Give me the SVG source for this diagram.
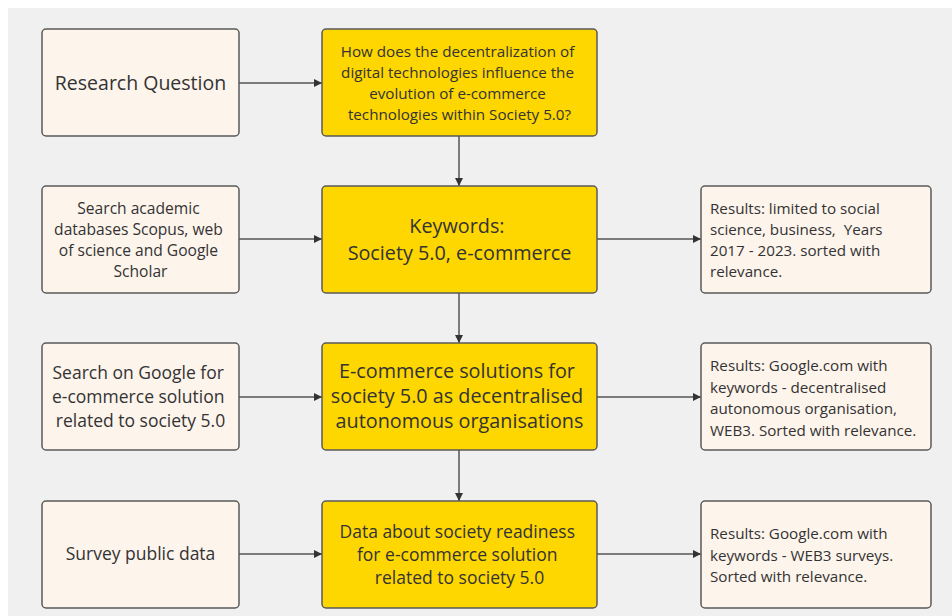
<svg xmlns="http://www.w3.org/2000/svg" width="952" height="616" viewBox="0 0 952 616">
<defs>
<marker id="ah" viewBox="0 0 10 10" refX="10" refY="5" markerWidth="8" markerHeight="8" markerUnits="userSpaceOnUse" orient="auto">
<path d="M0,0 L10,5 L0,10 z" fill="#333"/>
</marker>
<style>
.c{fill:#fdf4ec;stroke:#5a5a5a;stroke-width:1.5}
.y{fill:#fed600;stroke:#5a5a5a;stroke-width:1.5}
text{font-family:"Open Sans","Noto Sans","Liberation Sans",sans-serif;fill:#333}
.m{text-anchor:middle}
.l{font-size:19.8px}
.rq{font-size:19.5px}
.s{font-size:15.2px}
.sa{font-size:15.6px}
.q{font-size:15.2px}
.md{font-size:17.5px}
.e{fill:none;stroke:#555;stroke-width:1.5;marker-end:url(#ah)}
</style>
</defs>
<rect x="0" y="0" width="952" height="616" fill="#ffffff"/>
<rect x="8" y="8" width="944" height="608" fill="#f0f0f0"/>
<g id="connectors">
<path class="e" d="M239,83 H322"/>
<path class="e" d="M459,136 V186"/>
<path class="e" d="M239,239 H322"/>
<path class="e" d="M597,239 H701"/>
<path class="e" d="M459,293 V343"/>
<path class="e" d="M239,397 H322"/>
<path class="e" d="M597,397 H701"/>
<path class="e" d="M459,450 V501"/>
<path class="e" d="M239,554 H322"/>
<path class="e" d="M597,554 H701"/>
</g>
<g id="research-question">
<rect class="c" x="42" y="29" width="197" height="107" rx="4"/>
<text class="m rq" x="140.5" y="89.5">Research Question</text>
</g>
<g id="question">
<rect class="y" x="322" y="29" width="275" height="107" rx="4"/>
<text class="m q" x="459.5">
<tspan x="459.5" y="57">How does the decentralization of</tspan>
<tspan x="459.5" y="78">digital technologies influence the</tspan>
<tspan x="459.5" y="99">evolution of e-commerce</tspan>
<tspan x="459.5" y="120">technologies within Society 5.0?</tspan>
</text>
</g>
<g id="search-academic">
<rect class="c" x="42" y="186" width="197" height="107" rx="4"/>
<text class="m sa" x="140.5">
<tspan x="140.5" y="214">Search academic</tspan>
<tspan x="140.5" y="235">databases Scopus, web</tspan>
<tspan x="140.5" y="256">of science and Google</tspan>
<tspan x="140.5" y="277">Scholar</tspan>
</text>
</g>
<g id="keywords">
<rect class="y" x="322" y="186" width="275" height="107" rx="4"/>
<text class="m l" x="459.5">
<tspan x="459.5" y="233">Keywords:</tspan>
<tspan x="459.5" y="260">Society 5.0, e-commerce</tspan>
</text>
</g>
<g id="results-1">
<rect class="c" x="701" y="186" width="230" height="107" rx="4"/>
<text class="s" x="710">
<tspan x="710" y="214">Results: limited to social</tspan>
<tspan x="710" y="235" xml:space="preserve">science, business,  Years</tspan>
<tspan x="710" y="256">2017 - 2023. sorted with</tspan>
<tspan x="710" y="277">relevance.</tspan>
</text>
</g>
<g id="search-google">
<rect class="c" x="42" y="343" width="197" height="107" rx="4"/>
<text class="m md" x="140.5">
<tspan x="140.5" y="379">Search on Google for</tspan>
<tspan x="140.5" y="403">e-commerce solution</tspan>
<tspan x="140.5" y="427">related to society 5.0</tspan>
</text>
</g>
<g id="ecommerce-solutions">
<rect class="y" x="322" y="343" width="275" height="107" rx="4"/>
<text class="m l" x="459.5">
<tspan x="459.5" y="378">E-commerce solutions for</tspan>
<tspan x="459.5" y="403">society 5.0 as decentralised</tspan>
<tspan x="459.5" y="428">autonomous organisations</tspan>
</text>
</g>
<g id="results-2">
<rect class="c" x="701" y="343" width="230" height="107" rx="4"/>
<text class="s" x="710">
<tspan x="710" y="371">Results: Google.com with</tspan>
<tspan x="710" y="393">keywords - decentralised</tspan>
<tspan x="710" y="414">autonomous organisation,</tspan>
<tspan x="710" y="436">WEB3. Sorted with relevance.</tspan>
</text>
</g>
<g id="survey">
<rect class="c" x="42" y="501" width="197" height="107" rx="4"/>
<text class="m md" x="140.5" y="560">Survey public data</text>
</g>
<g id="data-readiness">
<rect class="y" x="322" y="501" width="275" height="107" rx="4"/>
<text class="m md" x="459.5">
<tspan x="459.5" y="538">Data about society readiness</tspan>
<tspan x="459.5" y="561">for e-commerce solution</tspan>
<tspan x="459.5" y="584">related to society 5.0</tspan>
</text>
</g>
<g id="results-3">
<rect class="c" x="701" y="501" width="230" height="107" rx="4"/>
<text class="s" x="710">
<tspan x="710" y="539">Results: Google.com with</tspan>
<tspan x="710" y="561">keywords - WEB3 surveys.</tspan>
<tspan x="710" y="582">Sorted with relevance.</tspan>
</text>
</g>
</svg>
